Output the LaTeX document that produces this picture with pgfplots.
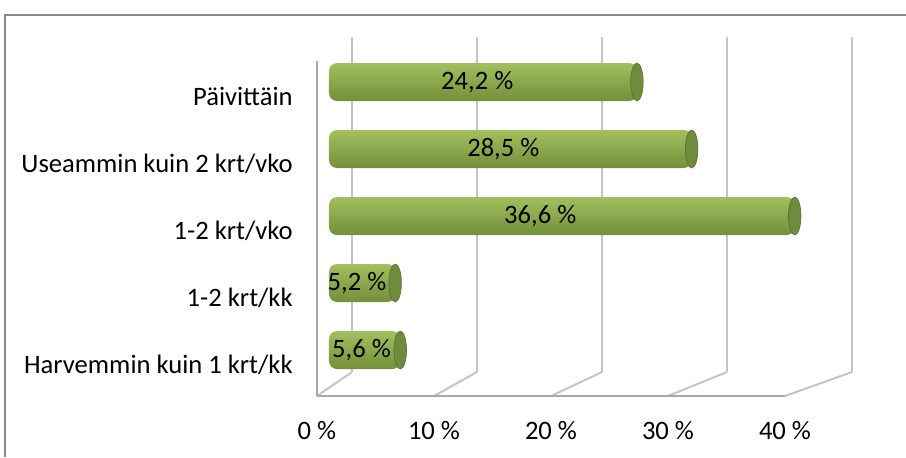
\documentclass[border=0pt]{standalone}
\usepackage{fontspec}
\setmainfont{Carlito}
\usepackage{pgfplots}
\pgfplotsset{compat=1.18}
\definecolor{framegray}{HTML}{888888}
\definecolor{gridgray}{HTML}{C4C4C4}
\definecolor{floorgray}{HTML}{A8A8A8}
\definecolor{bartop}{HTML}{A2C05E}
\definecolor{barmid}{HTML}{B4D46C}
\definecolor{barbot}{HTML}{738F3A}
\definecolor{capcol}{HTML}{6F8B3D}
\newcommand\lbl{\fontsize{13.3}{16}\selectfont}
\begin{document}
\begin{tikzpicture}
% pixel scope: (px,py) with y downwards, 1px = 0.5pt
\begin{scope}[yshift=228.5pt, x=0.5pt, y=-0.5pt]
  \path[use as bounding box] (0,0) rectangle (906,457);
  \draw[framegray, line width=1pt] (5,457) -- (5,15) -- (906,15);
\end{scope}

% back wall grid
\begin{axis}[
  at={(176pt,42.5pt)}, anchor=south west,
  scale only axis, width=250pt, height=167.5pt,
  xmin=0, xmax=40, ymin=0, ymax=1,
  xtick={0,10,20,30,40}, xticklabels={}, ytick=\empty,
  xmajorgrids, grid style={gridgray, line width=1pt},
  axis line style={draw=none}, tick style={draw=none},
]
\addplot[draw=none, forget plot] coordinates {(0,0) (40,1)};
\end{axis}

% floor diagonals
\begin{scope}[yshift=228.5pt, x=0.5pt, y=-0.5pt]
  \foreach \k in {0,1,2,3,4}{
    \draw[gridgray, line width=1pt] ({317+117*\k},396) -- ({352+125*\k},372);
  }
\end{scope}

% front floor and left wall with tick labels
\begin{axis}[
  at={(158.5pt,30.5pt)}, anchor=south west,
  scale only axis, width=234pt, height=167.5pt,
  xmin=0, xmax=40, ymin=0, ymax=1,
  axis x line*=bottom, axis y line*=left,
  x axis line style={-, floorgray, line width=1pt},
  y axis line style={-, floorgray, line width=1pt},
  xtick={0,10,20,30,40},
  xticklabels={0 \%, 10 \%, 20 \%, 30 \%, 40 \%},
  ytick=\empty,
  tick style={draw=none}, major tick length=0pt,
  xticklabel style={font=\lbl, inner sep=0pt, anchor=north, yshift=-12.5pt},
]
\addplot[draw=none, forget plot] coordinates {(0,0) (40,1)};
\end{axis}

% bars
\begin{axis}[
  at={(164.5pt,36.75pt)}, anchor=south west,
  scale only axis, width=254.5pt, height=167.5pt,
  xmin=0, xmax=40, ymin=-0.5, ymax=4.5,
  clip=false,
  axis line style={draw=none}, tick style={draw=none}, major tick length=0pt,
  xtick=\empty,
  ytick={0,1,2,3,4},
  yticklabels={Harvemmin kuin 1 krt/kk, 1-2 krt/kk, 1-2 krt/vko, Useammin kuin 2 krt/vko, Päivittäin},
  yticklabel style={font=\lbl, inner sep=0pt, anchor=east, xshift=-18pt, yshift=-7.25pt},
  cyl/.style={xbar, bar width=19pt, bar shift=0pt, draw=none, rounded corners=4pt,
    top color=bartop, middle color=barmid, bottom color=barbot},
]
\addplot[cyl] coordinates {(5.6,0)};
\addplot[cyl] coordinates {(5.2,1)};
\addplot[cyl] coordinates {(36.6,2)};
\addplot[cyl] coordinates {(28.5,3)};
\addplot[cyl] coordinates {(24.2,4)};
\addplot[only marks, mark=*, mark size=9.5pt,
  mark options={xscale=0.33, fill=capcol, draw=capcol!80!black, line width=0.3pt}]
  coordinates {(5.6,0) (5.2,1) (36.6,2) (28.5,3) (24.2,4)};
\addplot[draw=none, mark=none, nodes near coords, point meta=explicit symbolic,
  every node near coord/.append style={anchor=center, font=\lbl, inner sep=0pt, text=black}]
  coordinates {(2.55,0) [5,6 \%] (2.2,1) [5,2 \%] (16.6,2) [36,6 \%] (13.7,3) [28,5 \%] (11.65,4) [24,2 \%]};
\end{axis}
\end{tikzpicture}
\end{document}
